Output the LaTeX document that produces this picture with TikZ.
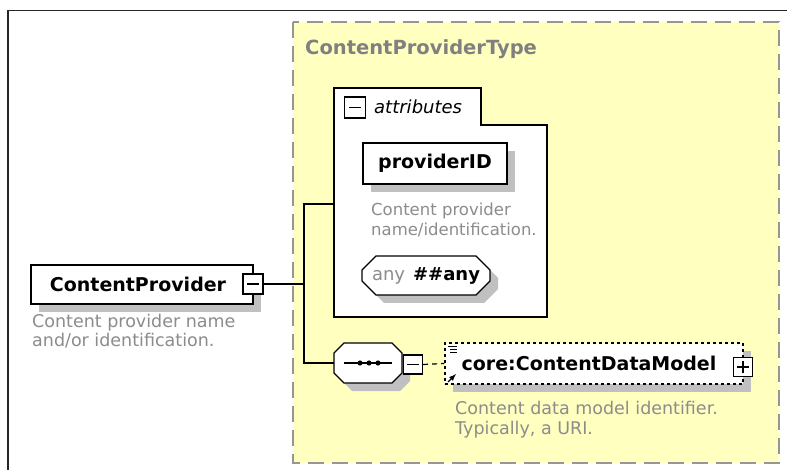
\documentclass[tikz,border=0pt]{standalone}
\usepackage{fontspec}
\setmainfont{DejaVu Sans}
\usetikzlibrary{shapes.misc,shadows}
\definecolor{yel}{RGB}{255,255,192}
\definecolor{dgray}{RGB}{150,150,150}
\definecolor{txtgray}{RGB}{140,140,140}
\definecolor{titlegray}{RGB}{128,128,128}
\definecolor{shad}{RGB}{192,192,192}
\tikzset{
  shd/.style={drop shadow={shadow xshift=8pt,shadow yshift=-8pt,fill=shad,opacity=1}},
  elem/.style={draw=black,fill=white,line width=1.3pt,inner sep=0pt,font=\fontsize{19}{22}\selectfont\bfseries},
  sq/.style={draw=black,fill=white,line width=1.1pt,minimum size=20pt,inner sep=0pt},
  desc/.style={anchor=base west,inner sep=0pt,text=txtgray,font=\fontsize{17.5}{20}\selectfont},
  conn/.style={line width=1.3pt,black}
}
\begin{document}
\begin{tikzpicture}[x=1pt,y=-1pt]
\useasboundingbox (0,0) rectangle (787,470);
\fill[white] (0,0) rectangle (787,470);
% outer frame
\draw[line width=1.6pt,black!85] (8,470) -- (8,10.5) -- (787,10.5);
% complex type box
\draw[fill=yel,draw=dgray,line width=2.2pt,dash pattern=on 16pt off 8pt] (293,22) rectangle (779,463);
\node[anchor=base west,inner sep=0pt,text=titlegray,font=\fontsize{19.5}{22}\selectfont\bfseries] (title) at (305,55) {ContentProviderType};

% attributes group
\draw[line width=1.3pt,fill=white] (334,88) -- (481,88) -- (481,125) -- (547,125) -- (547,317) -- (334,317) -- cycle;
\coordinate (attrL) at (334,204);
\node[sq,minimum size=21pt] (attm) at (355,107.5) {};
\draw[line width=1.1pt] ([xshift=-6pt]attm.center) -- ([xshift=6pt]attm.center);
\node[anchor=base west,inner sep=0pt,font=\fontsize{18}{22}\selectfont\itshape] (attlbl) at (374,114) {attributes};

% providerID
\node[elem,shd,minimum width=144pt,minimum height=41pt] (pid) at (435,163.5) {providerID};
\node[desc,font=\fontsize{16.5}{20}\selectfont] (pd1) at (371,216) {Content provider};
\node[desc,font=\fontsize{16.5}{20}\selectfont] (pd2) at (371,236) {name/identification.};

% any
\node[elem,shd,chamfered rectangle,chamfered rectangle xsep=7pt,chamfered rectangle ysep=7pt,minimum width=128pt,minimum height=39pt,font=\fontsize{18}{22}\selectfont] (any) at (426,275.5) {\textcolor{txtgray}{any}\hspace{8pt}\textbf{\#\#any}};

% ContentProvider element
\node[elem,shd,minimum width=222pt,minimum height=39pt] (cp) at (142,284.5) {\hspace*{-8pt}ContentProvider};
\node[sq] (cpm) at (253,284) {};
\draw[line width=1.1pt] ([xshift=-6pt]cpm.center) -- ([xshift=6pt]cpm.center);
\node[desc] (cd1) at (32,327) {Content provider name};
\node[desc] (cd2) at (32,346) {and/or identification.};

% sequence (octagon)
\fill[shad,shift={(8,8)}] (344,343) -- (392,343) -- (402,353) -- (402,373) -- (392,383) -- (344,383) -- (334,373) -- (334,353) -- cycle;
\draw[line width=1.3pt,fill=white] (344,343) -- (392,343) -- (402,353) -- (402,373) -- (392,383) -- (344,383) -- (334,373) -- (334,353) -- cycle;
\node[minimum width=68pt,minimum height=40pt,inner sep=0pt] (seq) at (368,363) {};
\draw[line width=1.3pt] ([xshift=-24pt]seq.center) -- ([xshift=24pt]seq.center);
\fill (360,363) circle (2.6pt) (369,363) circle (2.6pt) (378,363) circle (2.6pt);
\node[sq,minimum size=19pt] (seqm) at (413,364.5) {};
\draw[line width=1.1pt] ([xshift=-6pt]seqm.center) -- ([xshift=6pt]seqm.center);

% core:ContentDataModel
\node[draw=black,fill=white,line width=1.3pt,dash pattern=on 3pt off 3pt,shd,minimum width=298pt,minimum height=41pt,inner sep=0pt,font=\fontsize{19}{22}\selectfont\bfseries] (cdm) at (594,363.5) {core:ContentDataModel\hspace*{10pt}};
\node[sq,minimum size=19pt] (cdmp) at (743,367) {};
\draw[line width=1.1pt] ([xshift=-6pt]cdmp.center) -- ([xshift=6pt]cdmp.center) ([yshift=-6pt]cdmp.center) -- ([yshift=6pt]cdmp.center);
\draw[line width=1pt] (448,346) -- (457,346) (450,349) -- (457,349) (450,352) -- (457,352);
\draw[line width=1.4pt,-latex] (448,382) -- (456,374);
\node[desc] (md1) at (455,414) {Content data model identifier.};
\node[desc] (md2) at (455,434) {Typically, a URI.};

% connectors
\coordinate (b1) at (304,204);
\coordinate (b2) at (304,363);
\draw[conn] (cpm.east) -- (cpm.east -| b1);
\draw[conn] (attrL) -- (b1) -- (b2) -- (seq.west);
\draw[line width=1.2pt,dash pattern=on 5pt off 4pt] (seqm.east) -- (cdm.west);
\end{tikzpicture}
\end{document}
